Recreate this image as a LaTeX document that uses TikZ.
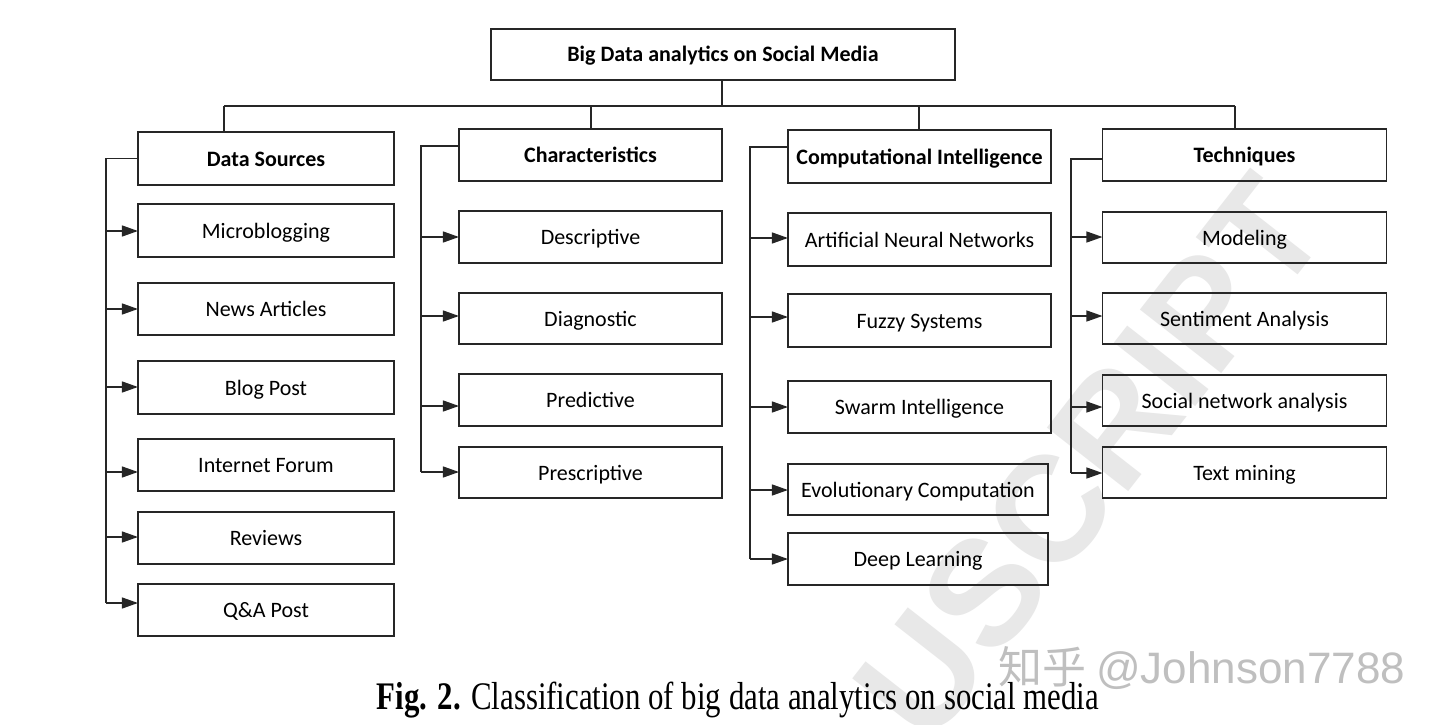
\documentclass[tikz,border=0pt]{standalone}
\usepackage{fontspec}
\usepackage{graphicx}
\setmainfont{Carlito}
\newfontfamily\capfont{Liberation Serif}
\newfontfamily\wmfont{Liberation Sans}
\newfontfamily\cjk{Noto Sans CJK SC}
\usetikzlibrary{arrows.meta}
\begin{document}
\begin{tikzpicture}[x=1pt,y=-1pt,
  bx/.style={draw=black!85, line width=1.3pt, inner sep=0pt,
    text height=17pt, text depth=2pt,
    font=\fontsize{22}{26}\selectfont},
  hd/.style={bx, font=\bfseries\fontsize{22}{26}\selectfont},
  ln/.style={draw=black!85, line width=1.3pt},
  arr/.style={ln, -{Triangle[length=16pt,width=11pt]}, shorten >=-0.6pt}]
\useasboundingbox (0,0) rectangle (1440,725);
\fill[white] (0,0) rectangle (1440,725);
% background watermark
\begin{scope}
\clip (0,0) rectangle (1440,725);
\node[rotate=52, text=black!9, font=\wmfont\bfseries\fontsize{150}{150}\selectfont] (wm) at (1090,458) {USCRIPT};
\end{scope}
% root
\node[hd, minimum width=464pt, minimum height=51pt] (root) at (723,54.5) {Big Data analytics on Social Media};
% column 1
\node[hd, minimum width=256pt, minimum height=53pt] (ds) at (266,158.5) {Data Sources};
\node[bx, minimum width=256pt, minimum height=53pt] (mb) at (266,230.5) {Microblogging};
\node[bx, minimum width=256pt, minimum height=52pt] (na) at (266,309) {News Articles};
\node[bx, minimum width=256pt, minimum height=53pt] (bp) at (266,387.5) {Blog Post};
\node[bx, minimum width=256pt, minimum height=52pt] (if) at (266,465) {Internet Forum};
\node[bx, minimum width=256pt, minimum height=52pt] (rv) at (266,538) {Reviews};
\node[bx, minimum width=256pt, minimum height=52pt] (qa) at (266,610) {Q\&A Post};
% column 2
\node[hd, minimum width=263pt, minimum height=52pt] (ch) at (590.5,155) {Characteristics};
\node[bx, minimum width=263pt, minimum height=52pt] (de) at (590.5,237) {Descriptive};
\node[bx, minimum width=263pt, minimum height=51pt] (dg) at (590.5,318.5) {Diagnostic};
\node[bx, minimum width=263pt, minimum height=52pt] (pd) at (590.5,400) {Predictive};
\node[bx, minimum width=263pt, minimum height=51pt] (ps) at (590.5,472.5) {Prescriptive};
% column 3
\node[hd, minimum width=263pt, minimum height=53pt] (ci) at (919.5,156.5) {Computational Intelligence};
\node[bx, minimum width=263pt, minimum height=53pt] (an) at (919.5,239.5) {Artificial Neural Networks};
\node[bx, minimum width=263pt, minimum height=53pt] (fz) at (919.5,320.5) {Fuzzy Systems};
\node[bx, minimum width=263pt, minimum height=52pt] (sw) at (919.5,407) {Swarm Intelligence};
\node[bx, minimum width=260pt, minimum height=51pt] (ev) at (918,489.5) {Evolutionary Computation};
\node[bx, minimum width=260pt, minimum height=52pt] (dl) at (918,559) {Deep Learning};
% column 4
\node[hd, minimum width=284pt, minimum height=52pt] (te) at (1244.5,155) {Techniques};
\node[bx, minimum width=284pt, minimum height=51pt] (mo) at (1244.5,237.5) {Modeling};
\node[bx, minimum width=284pt, minimum height=51pt] (sa) at (1244.5,318.5) {Sentiment Analysis};
\node[bx, minimum width=284pt, minimum height=51pt] (sn) at (1244.5,400.5) {Social network analysis};
\node[bx, minimum width=284pt, minimum height=51pt] (tm) at (1244.5,472.5) {Text mining};
% tree top
\coordinate (hb) at (722,106);
\coordinate (d1) at (224,106);
\coordinate (d2) at (591,106);
\coordinate (d3) at (919,106);
\coordinate (d4) at (1235,106);
\draw[ln] (root.south -| hb) -- (hb);
\draw[ln] (d1) -- (d4);
\draw[ln] (d1) -- (d1 |- ds.north);
\draw[ln] (d2) -- (d2 |- ch.north);
\draw[ln] (d3) -- (d3 |- ci.north);
\draw[ln] (d4) -- (d4 |- te.north);
% column 1 connectors
\coordinate (a11) at (106,231);
\coordinate (a12) at (106,309);
\coordinate (a13) at (106,387);
\coordinate (a14) at (106,472);
\coordinate (a15) at (106,537);
\coordinate (a16) at (106,603);
\draw[ln] (ds.west) -| (a16);
\draw[arr] (a11) -- (a11 -| mb.west);
\draw[arr] (a12) -- (a12 -| na.west);
\draw[arr] (a13) -- (a13 -| bp.west);
\draw[arr] (a14) -- (a14 -| if.west);
\draw[arr] (a15) -- (a15 -| rv.west);
\draw[arr] (a16) -- (a16 -| qa.west);
% column 2 connectors
\coordinate (a21) at (421,237);
\coordinate (a22) at (421,316);
\coordinate (a23) at (421,406);
\coordinate (a24) at (421,472);
\draw[ln] ([yshift=9pt]ch.west) -| (a24);
\draw[arr] (a21) -- (a21 -| de.west);
\draw[arr] (a22) -- (a22 -| dg.west);
\draw[arr] (a23) -- (a23 -| pd.west);
\draw[arr] (a24) -- (a24 -| ps.west);
% column 3 connectors
\coordinate (a31) at (750,238);
\coordinate (a32) at (750,317);
\coordinate (a33) at (750,407);
\coordinate (a34) at (750,490);
\coordinate (a35) at (750,559);
\draw[ln] ([yshift=9.5pt]ci.west) -| (a35);
\draw[arr] (a31) -- (a31 -| an.west);
\draw[arr] (a32) -- (a32 -| fz.west);
\draw[arr] (a33) -- (a33 -| sw.west);
\draw[arr] (a34) -- (a34 -| ev.west);
\draw[arr] (a35) -- (a35 -| dl.west);
% column 4 connectors
\coordinate (a41) at (1071,237);
\coordinate (a42) at (1071,316);
\coordinate (a43) at (1071,407);
\coordinate (a44) at (1071,473);
\draw[ln] ([yshift=-4pt]te.west) -| (a44);
\draw[arr] (a41) -- (a41 -| mo.west);
\draw[arr] (a42) -- (a42 -| sa.west);
\draw[arr] (a43) -- (a43 -| sn.west);
\draw[arr] (a44) -- (a44 -| tm.west);
% caption and watermark
\node[anchor=base, inner sep=0pt, font=\capfont\fontsize{32}{36}\selectfont] (cap) at (738,709) {\scalebox{0.964}[1.22]{\textbf{Fig. 2.} Classification of big data analytics on social media}};
\node[anchor=base west, inner sep=0pt, text=black!25, font=\fontsize{44}{48}\selectfont] (zh) at (998,683) {{\cjk 知乎} {\wmfont @Johnson7788}};
\end{tikzpicture}
\end{document}
